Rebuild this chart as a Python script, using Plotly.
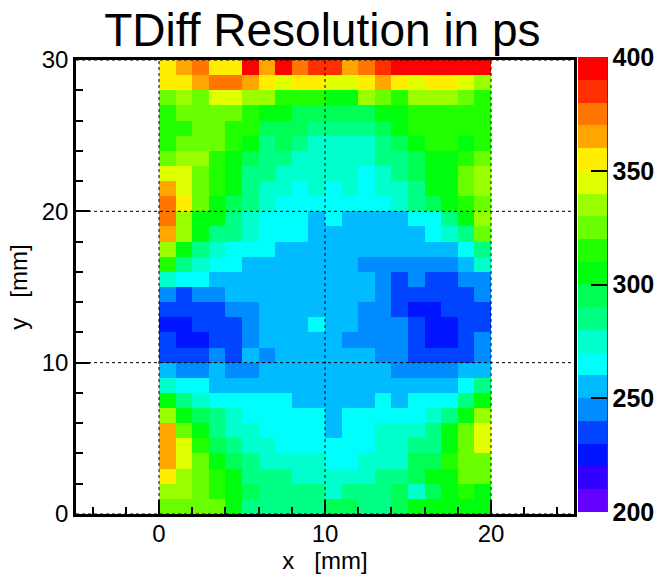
import colorsys
import plotly.graph_objects as go

# Time-difference resolution (ps) per 1 mm x 1 mm bin, rows listed from y=29.5 (top) down to y=0.5
# columns x = 0.5 ... 19.5
rows_top_down = [
    [355, 365, 375, 355, 355, 395, 365, 395, 375, 385, 385, 365, 375, 385, 395, 395, 395, 395, 395, 395],
    [355, 355, 365, 375, 375, 365, 355, 345, 355, 355, 345, 345, 355, 365, 355, 345, 355, 355, 345, 335],
    [325, 335, 325, 345, 345, 335, 335, 315, 315, 315, 305, 305, 335, 325, 315, 335, 335, 335, 325, 315],
    [315, 325, 325, 325, 325, 315, 305, 305, 295, 295, 295, 295, 295, 305, 305, 315, 315, 315, 315, 315],
    [315, 315, 325, 325, 315, 315, 295, 295, 295, 285, 285, 285, 285, 295, 305, 315, 315, 315, 315, 315],
    [315, 325, 325, 325, 315, 305, 285, 295, 285, 275, 275, 275, 275, 285, 295, 305, 315, 315, 305, 315],
    [325, 335, 335, 315, 305, 295, 285, 285, 275, 275, 275, 275, 275, 285, 285, 295, 305, 305, 315, 325],
    [345, 345, 325, 315, 305, 285, 285, 275, 275, 275, 275, 275, 265, 275, 285, 295, 305, 305, 325, 335],
    [365, 345, 325, 315, 305, 285, 275, 275, 265, 275, 265, 275, 265, 275, 275, 285, 305, 305, 325, 335],
    [375, 355, 325, 305, 295, 285, 275, 265, 265, 265, 265, 265, 265, 265, 275, 285, 295, 305, 315, 325],
    [375, 335, 305, 305, 285, 275, 265, 265, 265, 255, 265, 255, 255, 255, 255, 265, 265, 285, 305, 335],
    [365, 335, 305, 285, 285, 275, 265, 265, 265, 255, 255, 255, 255, 255, 255, 255, 265, 275, 285, 325],
    [335, 305, 285, 275, 265, 265, 265, 255, 255, 255, 255, 255, 255, 255, 255, 255, 255, 255, 265, 285],
    [315, 285, 275, 265, 265, 255, 255, 255, 255, 255, 255, 255, 245, 245, 245, 245, 245, 245, 255, 275],
    [275, 265, 265, 255, 255, 255, 255, 255, 255, 255, 255, 255, 255, 245, 235, 245, 235, 235, 245, 245],
    [245, 235, 245, 245, 255, 255, 255, 255, 255, 255, 255, 255, 255, 245, 235, 235, 235, 235, 235, 245],
    [235, 235, 235, 235, 245, 245, 255, 255, 255, 255, 255, 255, 245, 245, 235, 225, 225, 235, 235, 235],
    [225, 225, 235, 235, 235, 245, 255, 255, 255, 265, 255, 255, 245, 245, 245, 235, 225, 225, 235, 235],
    [235, 225, 225, 235, 235, 245, 255, 255, 255, 255, 255, 245, 245, 245, 245, 235, 225, 225, 235, 245],
    [235, 235, 235, 245, 235, 255, 245, 255, 255, 255, 255, 255, 255, 245, 245, 235, 235, 235, 235, 245],
    [255, 245, 245, 255, 245, 245, 255, 255, 255, 255, 255, 255, 255, 255, 245, 245, 245, 245, 255, 255],
    [275, 265, 265, 255, 255, 255, 255, 255, 255, 255, 255, 255, 255, 255, 255, 255, 255, 255, 265, 285],
    [305, 285, 275, 265, 265, 265, 265, 265, 255, 255, 255, 255, 255, 265, 255, 265, 265, 265, 285, 305],
    [335, 305, 295, 285, 275, 265, 265, 265, 265, 265, 255, 265, 265, 265, 265, 265, 275, 285, 305, 335],
    [365, 325, 305, 285, 275, 275, 265, 265, 265, 265, 255, 265, 265, 275, 275, 275, 285, 305, 325, 345],
    [365, 345, 315, 295, 285, 275, 275, 265, 265, 265, 265, 265, 265, 275, 275, 285, 285, 305, 325, 345],
    [365, 345, 325, 305, 295, 285, 275, 275, 275, 275, 265, 265, 275, 275, 275, 295, 295, 315, 325, 325],
    [355, 335, 325, 315, 305, 285, 285, 285, 275, 275, 275, 275, 275, 285, 285, 295, 305, 305, 325, 325],
    [335, 335, 325, 315, 305, 295, 285, 285, 285, 285, 275, 285, 285, 285, 295, 275, 295, 305, 315, 305],
    [325, 325, 325, 325, 305, 285, 285, 285, 285, 285, 295, 295, 285, 285, 295, 305, 305, 305, 305, 305],
]
x_centers = [i + 0.5 for i in range(20)]
y_centers = [j + 0.5 for j in range(30)]
z_values = rows_top_down[::-1]

x_ticks = [0, 10, 20]
y_ticks = [0, 10, 20, 30]
z_ticks = [200, 250, 300, 350, 400]
z_min, z_max, n_levels = 200, 400, 20

# Classic violet->red spectrum palette (hue 280..0, L=0.5, S=1), 50 entries, 20 contour levels
palette = []
for i in range(50):
    hue = 280 - (i + 1) * (280 / 50)
    r, g, b = colorsys.hls_to_rgb(hue / 360, 0.5, 1.0)
    palette.append("rgb(%d,%d,%d)" % (round(r * 255), round(g * 255), round(b * 255)))
level_colors = [palette[int((j + 0.99) * 50 / n_levels)] for j in range(n_levels)]
colorscale = []
for j, c in enumerate(level_colors):
    colorscale.append([j / n_levels, c])
    colorscale.append([(j + 1) / n_levels, c])

FONT = "Liberation Sans, Arial, Helvetica, sans-serif"

# plot-area geometry in pixels
FIG_W, FIG_H = 662, 574
M_L, M_R, M_T, M_B = 76, 88, 60, 60
PLOT_W = FIG_W - M_L - M_R
PLOT_H = FIG_H - M_T - M_B
CB_LEFT, CB_THICK, CB_TOP, CB_BOTTOM = 578, 29, 57, 512

fig = go.Figure(go.Heatmap(
    x=x_centers, y=y_centers, z=z_values,
    zmin=z_min, zmax=z_max, colorscale=colorscale,
    colorbar=dict(
        thickness=CB_THICK, thicknessmode="pixels",
        len=CB_BOTTOM - CB_TOP, lenmode="pixels",
        x=(CB_LEFT - M_L) / PLOT_W, xanchor="left", xpad=0,
        y=(FIG_H - M_B - (CB_TOP + CB_BOTTOM) / 2) / PLOT_H, yanchor="middle", ypad=0,
        outlinewidth=0,
        tickvals=z_ticks, ticks="inside", ticklen=16, tickwidth=1.5, tickcolor="black",
        tickfont=dict(family=FONT, size=25, color="black", weight="bold"),
    ),
    hoverongaps=False,
))

axis_common = dict(
    showgrid=False, zeroline=False,
    showline=True, mirror=True, linecolor="black", linewidth=2.5,
    ticks="inside", ticklen=14, tickwidth=1.5, tickcolor="black",
    tickfont=dict(family=FONT, size=24, color="black"),
)
minor_ticks = dict(dtick=2, ticks="inside", ticklen=7, tickwidth=1.5, tickcolor="black")

fig.update_xaxes(
    range=[-5, 25], tickvals=x_ticks, minor=minor_ticks, ticklabelstandoff=-4,
    title=dict(text="x\u00a0\u00a0\u00a0[mm]", font=dict(family=FONT, size=24, color="black"), standoff=14),
    **axis_common,
)
fig.update_yaxes(
    range=[0, 30], tickvals=y_ticks, minor=minor_ticks,
    title=dict(text="y\u00a0\u00a0\u00a0[mm]", font=dict(family=FONT, size=24, color="black"), standoff=8),
    **axis_common,
)

# dotted grid drawn on top of the cells
shapes = []
for xv in x_ticks:
    shapes.append(dict(type="line", xref="x", yref="paper", x0=xv, x1=xv, y0=0, y1=1,
                       line=dict(color="black", width=1, dash="dot"), layer="above"))
for yv in y_ticks:
    shapes.append(dict(type="line", xref="paper", yref="y", x0=0, x1=1, y0=yv, y1=yv,
                       line=dict(color="black", width=1, dash="dot"), layer="above"))
# axis line along the right side of the palette
cb_right = (CB_LEFT + CB_THICK - M_L) / PLOT_W
shapes.append(dict(type="line", xref="paper", yref="paper",
                   x0=cb_right, x1=cb_right,
                   y0=(FIG_H - M_B - CB_BOTTOM) / PLOT_H, y1=(FIG_H - M_B - CB_TOP) / PLOT_H,
                   line=dict(color="black", width=1.5), layer="above"))

fig.update_layout(
    width=FIG_W, height=FIG_H,
    margin=dict(l=M_L, r=M_R, t=M_T, b=M_B, autoexpand=False),
    paper_bgcolor="white", plot_bgcolor="white",
    title=dict(text="TDiff Resolution in ps", font=dict(family=FONT, size=46, color="black"),
               x=0.487, xanchor="center", y=0.948, yanchor="middle"),
    shapes=shapes,
)

fig.write_html("out.html")
